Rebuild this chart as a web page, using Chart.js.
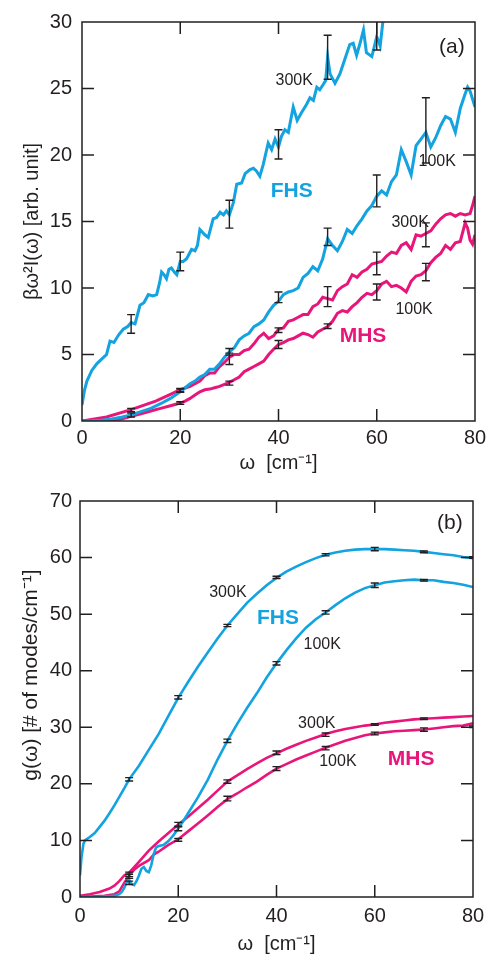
<!DOCTYPE html>
<html>
<head>
<meta charset="utf-8">
<script src="https://cdn.jsdelivr.net/npm/chart.js@4/dist/chart.umd.min.js"></script>
<style>
  body { margin: 0; background: #fff; width: 498px; height: 962px; overflow: hidden; }
  .panel { position: absolute; left: 0; width: 498px; height: 481px; }
</style>
</head>
<body>
<div class="panel" style="top:0"><canvas id="chartA" width="498" height="481"></canvas></div>
<div class="panel" style="top:481px"><canvas id="chartB" width="498" height="481"></canvas></div>
<script>
const INK = '#231f20';
const CYAN = '#12a3e0';
const MAGENTA = '#e8167a';
const FONT = "'Liberation Sans', Arial, sans-serif";

// ---- panel (a): beta*w^2*I(w) ----
const fhs300aX = [0,0.5,1,2,3,4,5,5.7,6.5,7.5,8.4,9.3,10,10.8,11.8,12.6,13.5,14.4,15.2,15.8,16.2,16.7,17.2,17.7,18.2,18.8,19.3,20,20.6,21.3,22.3,23,23.5,24,25,25.7,26.7,27.4,28.1,28.8,29.4,30,30.8,31.5,32.5,33.2,34.2,34.9,35.5,36.2,36.9,37.9,38.6,39.3,40,40.6,41.3,42,43,43.8,44.7,45.7,46.4,47.1,47.8,48.4,49.1,49.6,50,50.5,51.5,52.5,53.5,54.5,55.2,55.9,56.6,57.3,57.9,59,59.6,60,60.7,61.3,62,63];
const fhs300aY = [1.2,2.3,3.0,3.8,4.3,4.65,5.0,6.0,5.9,6.5,6.9,7.1,7.4,7.3,8.7,8.9,9.5,9.4,9.5,10.4,11.2,11.0,10.7,11.4,11.5,11.2,11.0,12.0,12.0,12.2,12.9,12.8,13.2,14.4,14.0,13.8,15.2,15.3,15.7,15.5,15.8,15.5,16.4,17.8,17.9,18.6,18.9,19.0,18.8,18.4,19.3,20.9,20.4,21.2,20.6,21.4,21.9,21.7,23.6,22.6,23.2,23.8,24.3,24.1,25.1,24.9,25.3,25.6,27.4,26.1,25.4,26.1,27.2,28.3,28.4,27.5,28.4,29.4,27.7,27.4,28.3,28.9,28.2,30.2,31.5,33];

const fhs100aX = [0,2,4,6,8,10,12,14,16,18,20,21,22,23,24,25,26,27,28,29,30,31,32,33,34,35,36,37,38,39,40,41,42,43,44,45,46,47,48,49,50,51,52,53,54,55,56,57,58,59,60,61,62,63,64,65,66,67,68,69,70,71,72,73,74,75,76,77,78,78.5,79,80];
const fhs100aY = [0,0.02,0.06,0.15,0.28,0.45,0.7,0.95,1.3,1.7,2.2,2.5,2.8,3.0,3.3,3.5,3.9,3.9,4.3,4.8,5.2,5.5,6.1,6.4,6.6,7.1,7.3,7.6,8.2,8.7,9.0,9.5,9.7,9.8,10.0,10.8,11.1,11.6,11.3,12.2,13.7,13.2,12.8,13.5,14.4,14.1,14.7,15.2,15.8,16.2,16.9,17.3,17.0,18.0,18.5,20.4,19.5,18.5,20.7,21.2,21.7,20.6,21.3,22.2,22.9,22.7,21.7,23.5,24.6,25.1,24.8,23.6];

const mhs300aX = [0,5,10,15,18,20,22,24,25,26,27,28,29,30,31,32,33,34,35,36,37,38,39,40,41,42,43,44,45,46,47,48,49,50,51,52,53,54,55,56,57,58,59,60,61,62,63,64,65,66,67,68,69,70,71,72,73,74,75,76,77,78,79,79.5,80];
const mhs300aY = [0,0.3,0.85,1.5,2.0,2.35,2.6,3.0,3.4,3.6,3.6,4.1,4.4,4.8,5.0,5.0,5.3,5.4,5.8,6.3,6.6,6.2,6.4,6.9,7.0,7.5,7.6,7.8,8.0,8.0,8.6,8.8,9.3,9.2,9.1,9.8,10.1,10.3,11.0,10.8,11.2,11.4,11.8,11.9,12.0,12.4,12.7,12.6,13.2,13.4,12.9,14.0,13.9,14.1,14.3,14.8,15.2,15.5,15.6,15.4,15.6,15.5,15.6,16.2,16.9];

const mhs100aX = [0,5,8,10,12,14,16,18,20,21,22,23,24,25,26,27,28,29,30,31,32,33,34,35,36,37,38,39,40,41,42,43,44,45,46,47,48,49,50,51,52,53,54,55,56,57,58,59,60,61,62,63,64,65,66,67,68,69,70,71,72,73,74,75,76,77,78,78.5,79,79.5,80];
const mhs100aY = [0,0.05,0.15,0.35,0.55,0.75,0.95,1.15,1.35,1.5,1.7,1.95,2.2,2.35,2.4,2.5,2.6,2.75,2.9,3.1,3.3,3.7,3.9,4.1,4.3,4.5,5.0,5.4,5.75,5.9,6.1,6.2,6.4,6.6,6.5,6.3,6.7,6.9,7.1,7.5,8.1,8.3,8.2,8.6,8.9,9.3,9.6,9.5,9.8,10.3,10.5,10.1,10.2,10.0,9.7,10.5,10.9,11.0,11.3,11.9,12.3,12.6,13.2,12.9,13.4,13.5,14.9,14.5,13.6,13.3,14.0];

const fhs300aErrX = [10,20,30,40,50,60];
const fhs300aErrLo = [6.6,11.3,14.5,19.7,25.7,27.9];
const fhs300aErrHi = [8.0,12.7,16.6,21.9,29.0,30.5];
const fhs100aErrX = [10,20,30,40,50,60,70];
const fhs100aErrLo = [0.3,2.15,4.95,8.9,13.2,16.1,19.4];
const fhs100aErrHi = [0.6,2.4,5.45,9.7,14.5,18.5,24.3];
const mhs300aErrX = [10,20,30,40,50,60,70];
const mhs300aErrLo = [0.7,2.2,4.25,6.65,8.6,11.0,13.1];
const mhs300aErrHi = [0.95,2.45,5.1,7.0,10.1,12.7,14.9];
const mhs100aErrX = [20,30,40,50,60,70];
const mhs100aErrLo = [1.25,2.7,5.45,6.95,9.1,10.55];
const mhs100aErrHi = [1.45,3.0,6.05,7.3,10.3,11.85];

// ---- panel (b): g(w) ----
const fhs300bX = [0,0.3,0.7,1,2,3,4,5,6,7,8,9,10,12,14,16,18,20,22,24,26,28,30,32,34,36,38,40,42,44,46,48,50,52,54,56,58,60,62,64,66,68,70,72,74,76,78,80];
const fhs300bY = [3.8,7.0,9.4,10.0,10.6,11.3,12.4,13.5,14.8,16.2,17.7,19.2,20.8,23.2,26.0,28.8,32.0,35.2,38.0,40.7,43.2,45.7,48.0,50.0,52.0,53.6,55.1,56.4,57.5,58.4,59.2,59.9,60.5,60.9,61.2,61.4,61.5,61.5,61.5,61.4,61.3,61.2,61.0,60.8,60.6,60.4,60.1,59.9];

const fhs100bX = [0,4,7,8,8.5,9,9.5,10,10.5,11,11.5,12,12.5,13,13.5,14,14.5,15,15.5,16,17,18,19,20,21,22,24,26,28,30,32,34,36,38,40,42,44,46,48,50,52,54,56,58,60,62,64,66,68,70,72,74,76,78,80];
const fhs100bY = [0,0.05,0.2,0.5,0.9,1.6,2.6,3.0,2.3,2.1,2.8,3.8,5.0,5.3,4.6,4.4,5.6,7.6,8.8,9.0,9.2,9.9,10.9,12.1,13.4,14.8,17.6,20.7,24.3,27.6,30.6,33.4,36.0,38.8,41.3,43.6,45.7,47.6,49.1,50.3,51.6,52.8,53.8,54.6,55.1,55.6,55.8,56.0,56.1,56.0,56.0,55.7,55.5,55.2,54.8];

const mhs300bX = [0,2,4,6,7,8,9,10,12,14,16,18,20,22,24,26,28,30,32,34,36,38,40,42,44,46,48,50,52,54,56,58,60,62,64,66,68,70,72,74,76,78,80];
const mhs300bY = [0.2,0.5,0.9,1.5,2.0,2.8,3.8,4.3,6.2,8.2,9.8,11.3,12.8,14.2,15.7,17.2,18.8,20.4,21.5,22.6,23.6,24.6,25.4,26.2,26.9,27.6,28.2,28.8,29.3,29.7,30.0,30.3,30.5,30.8,31.0,31.2,31.4,31.5,31.6,31.7,31.8,31.9,32.0];

const mhs100bX = [0,5,7,8,9,10,11,12,14,15,16,18,20,22,24,26,28,30,32,34,36,38,40,42,44,46,48,50,52,54,56,58,60,62,64,66,68,70,72,74,76,78,80];
const mhs100bY = [0,0.2,0.5,1.0,2.5,3.8,4.8,5.5,6.5,7.5,8.0,9.2,10.2,11.6,13.0,14.4,15.9,17.3,18.3,19.4,20.4,21.6,22.7,23.5,24.3,25.0,25.7,26.4,27.0,27.6,28.1,28.6,28.9,29.1,29.3,29.4,29.5,29.6,29.8,30.0,30.2,30.3,30.7];

const fhs300bErrX = [10,20,30,40,50,60,70,80];
const fhs300bErrLo = [20.5,35.0,47.8,56.3,60.3,61.2,60.85,59.85];
const fhs300bErrHi = [21.1,35.6,48.2,56.7,60.7,61.8,61.15,60.15];
const fhs100bErrX = [10,20,30,40,50,60,70];
const fhs100bErrLo = [2.2,11.7,27.3,41.0,50.0,54.7,55.85];
const fhs100bErrHi = [2.8,12.5,27.9,41.6,50.6,55.5,56.15];
const mhs300bErrX = [10,20,30,40,50,60,70];
const mhs300bErrLo = [3.6,12.4,20.1,25.2,28.4,30.35,31.35];
const mhs300bErrHi = [4.4,13.2,20.7,25.8,29.0,30.65,31.65];
const mhs100bErrX = [10,20,30,40,50,60,70,80];
const mhs100bErrLo = [3.3,9.85,17.0,22.35,26.0,28.65,29.3,29.95];
const mhs100bErrHi = [4.0,10.35,17.8,23.05,26.6,29.15,29.9,30.25];

const xTicks = [0, 20, 40, 60, 80];

function pts(xs, ys) {
  return xs.map((x, i) => ({x: x, y: ys[i]}));
}

function curve(xs, ys, color, width, ex, lo, hi) {
  return {
    data: pts(xs, ys),
    borderColor: color,
    borderWidth: width,
    pointRadius: 0,
    tension: 0,
    fill: false,
    errorBars: {x: ex, lo: lo, hi: hi}
  };
}

// black error bars with caps, drawn on top of the curves
const errorBarPlugin = {
  id: 'errorBars',
  afterDatasetsDraw(chart) {
    const {ctx, chartArea: a, scales: {x, y}} = chart;
    ctx.save();
    ctx.beginPath();
    ctx.rect(a.left, a.top, a.right - a.left, a.bottom - a.top);
    ctx.clip();
    ctx.strokeStyle = INK;
    ctx.lineWidth = 1.4;
    chart.data.datasets.forEach(ds => {
      const e = ds.errorBars;
      if (!e) return;
      e.x.forEach((v, i) => {
        const px = x.getPixelForValue(v);
        const top = y.getPixelForValue(e.hi[i]);
        const bot = y.getPixelForValue(e.lo[i]);
        ctx.beginPath();
        ctx.moveTo(px, top); ctx.lineTo(px, bot);
        ctx.moveTo(px - 4, top); ctx.lineTo(px + 4, top);
        ctx.moveTo(px - 4, bot); ctx.lineTo(px + 4, bot);
        ctx.stroke();
      });
    });
    ctx.restore();
  }
};

// box round the plot with inward ticks on all four sides
const framePlugin = {
  id: 'frame',
  afterDatasetsDraw(chart) {
    const {ctx, chartArea: a, scales: {x, y}} = chart;
    const tick = 12;
    ctx.save();
    ctx.strokeStyle = INK;
    ctx.lineWidth = 1.5;
    ctx.beginPath();
    x.ticks.forEach(t => {
      if (t.value <= x.min || t.value >= x.max) return;
      const px = x.getPixelForValue(t.value);
      ctx.moveTo(px, a.bottom); ctx.lineTo(px, a.bottom - tick);
      ctx.moveTo(px, a.top); ctx.lineTo(px, a.top + tick);
    });
    y.ticks.forEach(t => {
      if (t.value <= y.min || t.value >= y.max) return;
      const py = y.getPixelForValue(t.value);
      ctx.moveTo(a.left, py); ctx.lineTo(a.left + tick, py);
      ctx.moveTo(a.right, py); ctx.lineTo(a.right - tick, py);
    });
    ctx.stroke();
    ctx.strokeRect(a.left, a.top, a.right - a.left, a.bottom - a.top);
    ctx.restore();
  }
};

// text labels placed in data units (or pixels when pixel is set)
const notesPlugin = {
  id: 'notes',
  afterDraw(chart, args, opts) {
    const {ctx, scales: {x, y}} = chart;
    ctx.save();
    ctx.textAlign = 'center';
    ctx.textBaseline = 'middle';
    (opts.items || []).forEach(n => {
      const px = n.pixel ? n.x : x.getPixelForValue(n.x);
      const py = n.pixel ? n.y : y.getPixelForValue(n.y);
      ctx.font = n.font;
      ctx.fillStyle = n.color || INK;
      ctx.save();
      ctx.translate(px, py);
      if (n.rotate) ctx.rotate(n.rotate);
      ctx.fillText(n.text, 0, 0);
      ctx.restore();
    });
    ctx.restore();
  }
};

function makeChart(id, datasets, cfg) {
  return new Chart(document.getElementById(id), {
    type: 'line',
    data: {datasets: datasets},
    plugins: [errorBarPlugin, framePlugin, notesPlugin],
    options: {
      responsive: false,
      animation: false,
      devicePixelRatio: 1,
      layout: {padding: {top: cfg.padTop, right: cfg.padRight, left: 0, bottom: 0}},
      plugins: {
        legend: {display: false},
        tooltip: {enabled: false},
        notes: {items: cfg.notes}
      },
      scales: {
        x: {
          type: 'linear',
          min: 0, max: 80,
          afterBuildTicks: s => { s.ticks = xTicks.map(v => ({value: v})); },
          grid: {display: false, drawTicks: false},
          border: {display: false},
          ticks: {color: INK, font: {family: FONT, size: 20}, padding: cfg.xPad, maxRotation: 0},
          title: {display: true, text: 'ω  [cm⁻¹]', color: INK, font: {family: FONT, size: 20}, padding: 6},
          afterFit: s => { s.height = cfg.xHeight; }
        },
        y: {
          type: 'linear',
          min: 0, max: cfg.yMax,
          afterBuildTicks: s => { s.ticks = cfg.yTicks.map(v => ({value: v})); },
          grid: {display: false, drawTicks: false},
          border: {display: false},
          ticks: {color: INK, font: {family: FONT, size: 20}, padding: cfg.yPad},
          title: {display: cfg.yTitle !== '', text: cfg.yTitle, color: INK, font: {family: FONT, size: 20}, padding: 20},
          afterFit: s => { s.width = cfg.yWidth; }
        }
      }
    }
  });
}

const small = '16px ' + FONT;
const bold = 'bold 21px ' + FONT;
const tag = '21px ' + FONT;

makeChart('chartA', [
  curve(fhs300aX, fhs300aY, CYAN, 3, fhs300aErrX, fhs300aErrLo, fhs300aErrHi),
  curve(fhs100aX, fhs100aY, CYAN, 3, fhs100aErrX, fhs100aErrLo, fhs100aErrHi),
  curve(mhs300aX, mhs300aY, MAGENTA, 3, mhs300aErrX, mhs300aErrLo, mhs300aErrHi),
  curve(mhs100aX, mhs100aY, MAGENTA, 3, mhs100aErrX, mhs100aErrLo, mhs100aErrHi)
], {
  padTop: 17, padRight: 23, xHeight: 60, yWidth: 82, xPad: 5, yPad: 10,
  yMax: 30, yTicks: [0, 5, 10, 15, 20, 25, 30],
  yTitle: 'βω²I(ω) [arb. unit]',
  notes: [
    {text: '(a)', x: 75.3, y: 28.1, font: tag},
    {text: '300K', x: 43.2, y: 25.6, font: small},
    {text: 'FHS', x: 42.7, y: 17.3, font: bold, color: CYAN},
    {text: '100K', x: 72.3, y: 19.5, font: small},
    {text: '300K', x: 66.8, y: 14.9, font: small},
    {text: '100K', x: 67.6, y: 8.4, font: small},
    {text: 'MHS', x: 57.2, y: 6.4, font: bold, color: MAGENTA}
  ]
});

makeChart('chartB', [
  curve(fhs300bX, fhs300bY, CYAN, 2.6, fhs300bErrX, fhs300bErrLo, fhs300bErrHi),
  curve(fhs100bX, fhs100bY, CYAN, 2.6, fhs100bErrX, fhs100bErrLo, fhs100bErrHi),
  curve(mhs300bX, mhs300bY, MAGENTA, 2.6, mhs300bErrX, mhs300bErrLo, mhs300bErrHi),
  curve(mhs100bX, mhs100bY, MAGENTA, 2.6, mhs100bErrX, mhs100bErrLo, mhs100bErrHi)
], {
  padTop: 13, padRight: 25, xHeight: 65, yWidth: 80, xPad: 7, yPad: 8,
  yMax: 70, yTicks: [0, 10, 20, 30, 40, 50, 60, 70],
  yTitle: '',
  notes: [
    {text: 'g(ω) [# of modes/cm⁻¹]', x: 31, y: 194, pixel: true, rotate: -Math.PI / 2, font: '21px ' + FONT},
    {text: '(b)', x: 75.3, y: 66.0, font: tag},
    {text: '300K', x: 30.1, y: 53.8, font: small},
    {text: 'FHS', x: 40.3, y: 49.2, font: bold, color: CYAN},
    {text: '100K', x: 49.3, y: 44.6, font: small},
    {text: '300K', x: 48.2, y: 30.6, font: small},
    {text: '100K', x: 52.5, y: 24.0, font: small},
    {text: 'MHS', x: 67.4, y: 24.3, font: bold, color: MAGENTA}
  ]
});
</script>
</body>
</html>
